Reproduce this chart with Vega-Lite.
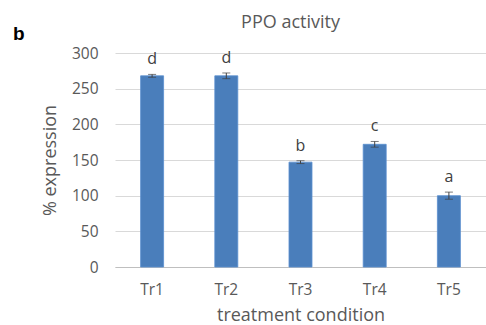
{
  "$schema": "https://vega.github.io/schema/vega-lite/v6.json",
  "autosize": "none",
  "width": 371,
  "height": 214,
  "padding": {"left": 115, "top": 53, "right": 0, "bottom": 58},
  "background": "white",
  "config": {
    "font": "Open Sans",
    "view": {"stroke": null},
    "axis": {"labelColor": "#595959", "titleColor": "#595959", "labelFont": "Open Sans", "titleFont": "Open Sans", "titleFontWeight": "normal"}
  },
  "title": {"text": "b", "anchor": "start", "frame": "group", "dx": -102, "dy": 35, "fontSize": 19, "fontWeight": "bold", "color": "#000000", "font": "Liberation Sans"},
  "data": {"values": [
    {"cond": "Tr1", "value": 268, "err": 2, "letter": "d"},
    {"cond": "Tr2", "value": 268, "err": 4, "letter": "d"},
    {"cond": "Tr3", "value": 147, "err": 2, "letter": "b"},
    {"cond": "Tr4", "value": 172, "err": 4, "letter": "c"},
    {"cond": "Tr5", "value": 100, "err": 5, "letter": "a"}
  ]},
  "resolve": {"axis": {"x": "independent", "y": "independent"}},
  "layer": [
    {
      "mark": {"type": "bar", "color": "#4a7ebb", "stroke": "#5b8fcf", "strokeWidth": 0.8},
      "encoding": {
        "x": {"field": "cond", "type": "nominal", "sort": null,
          "scale": {"paddingInner": 0.69, "paddingOuter": 0.345},
          "axis": {"title": "treatment condition", "titleFontSize": 18, "titlePadding": 9, "labelFontSize": 15.5, "labelAngle": 0, "labelPadding": 15, "ticks": false, "domainColor": "#bfbfbf", "domainWidth": 1}},
        "y": {"field": "value", "type": "quantitative",
          "scale": {"domain": [0, 300], "nice": false},
          "axis": {"title": "% expression", "titleFontSize": 18, "titlePadding": 12, "labelFontSize": 15.5, "labelPadding": 17, "values": [0, 50, 100, 150, 200, 250, 300], "ticks": false, "domain": false, "gridColor": "#d9d9d9", "gridWidth": 1}}
      }
    },
    {
      "mark": {"type": "errorbar", "ticks": {"size": 8, "color": "#404040"}, "rule": {"color": "#404040"}},
      "encoding": {
        "x": {"field": "cond", "type": "nominal", "sort": null, "axis": null},
        "y": {"field": "value", "type": "quantitative", "axis": null},
        "yError": {"field": "err"}
      }
    },
    {
      "transform": [{"calculate": "datum.value + datum.err", "as": "top"}],
      "mark": {"type": "text", "baseline": "alphabetic", "dy": -10, "fontSize": 16, "color": "#404040", "font": "Open Sans"},
      "encoding": {
        "x": {"field": "cond", "type": "nominal", "sort": null,
          "axis": {"orient": "top", "title": "PPO activity", "titleFontSize": 18, "titlePadding": 22, "labels": false, "ticks": false, "domain": false, "grid": false, "titleX": 175}},
        "y": {"field": "top", "type": "quantitative", "axis": null},
        "text": {"field": "letter"}
      }
    }
  ]
}
